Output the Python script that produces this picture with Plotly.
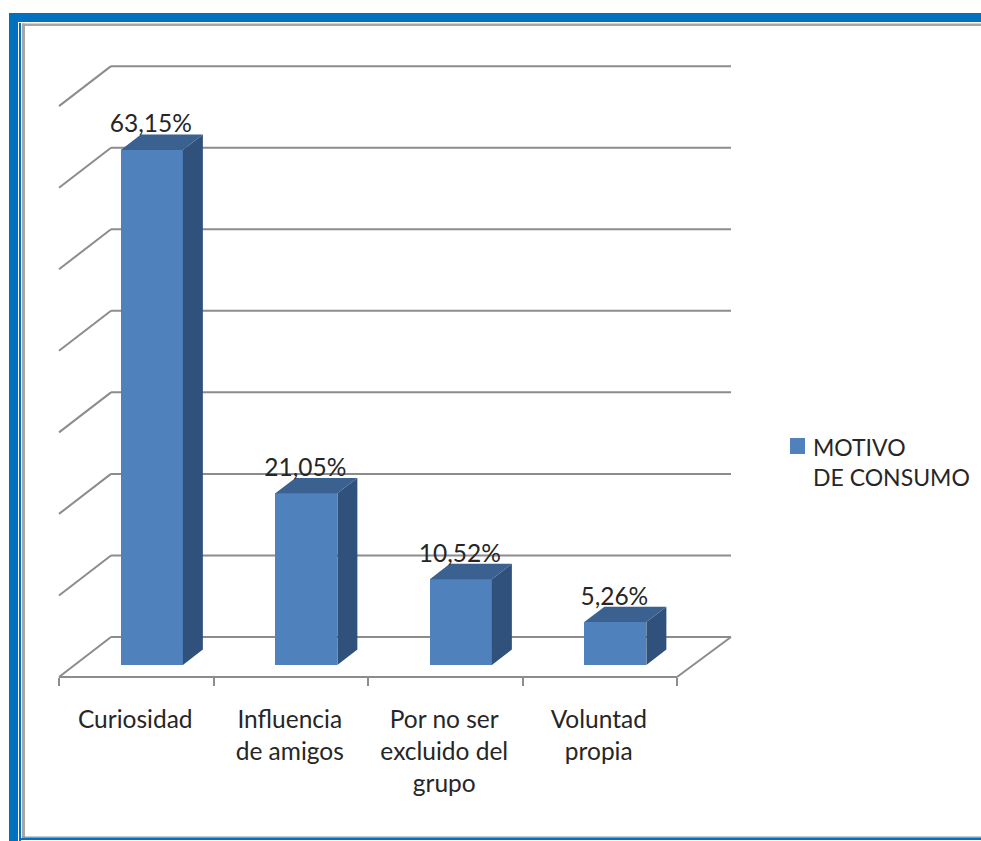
import plotly.graph_objects as go

categories = ["Curiosidad", "Influencia<br>de amigos", "Por no ser<br>excluido del<br>grupo", "Voluntad<br>propia"]
values = [63.15, 21.05, 10.52, 5.26]
labels = ["63,15%", "21,05%", "10,52%", "5,26%"]
grid_values = [0, 10, 20, 30, 40, 50, 60, 70]
series_name = "MOTIVO<br>DE CONSUMO"

W, H = 981, 841
PX_CAT = 154.5      # pixels per category
PX_VAL = 8.155      # pixels per percent
X0, Y0 = 59, 677    # pixel position of the front-left floor corner
L, R, T, B = 40, 981, 50, 690

DX = 52 / PX_CAT    # depth of the 3D box, in x units
DX_R = 54 / PX_CAT  # depth at the right-hand end of the floor and wall
DY = 40 / PX_VAL    # depth of the 3D box, in y units
GAP = 0.3           # depth before the bar starts
BAR = 0.385         # depth of the bar
BW = 62 / PX_CAT    # bar width
NUDGE = 1 / PX_CAT  # small leftward shift of the text labels

FONT = "Lato"
TXT = "#262626"
GRID = "#8c8c8c"
FRONT, SIDE, TOP = "#4f81bd", "#30517b", "#3b6190"

xr = [-0.5 - (X0 - L) / PX_CAT, -0.5 + (R - X0) / PX_CAT]
yr = [-(B - Y0) / PX_VAL, (Y0 - T) / PX_VAL]


def pxx(p):
    return (p - L) / (R - L)


def pxy(p):
    return (B - p) / (B - T)


fig = go.Figure()

# grid of the walls and floor, under the bars
shapes = []
n = len(categories)
left, right = -0.5, n - 0.5
for g in grid_values:
    if g > 0:
        shapes.append(dict(type="line", xref="x", yref="y", layer="below", x0=left, y0=g, x1=left + DX, y1=g + DY,
                           line=dict(color=GRID, width=2)))
    shapes.append(dict(type="line", xref="x", yref="y", layer="below", x0=left + DX, y0=g + DY, x1=right + DX_R, y1=g + DY,
                       line=dict(color=GRID, width=2)))
for seg in [(left, 0, right, 0), (left, 0, left + DX, DY), (right, 0, right + DX_R, DY)]:
    shapes.append(dict(type="line", xref="x", yref="y", layer="below", x0=seg[0], y0=seg[1], x1=seg[2], y1=seg[3],
                       line=dict(color=GRID, width=2)))

# page frame
BLUE = "#0070c0"
frames = [
    (9, 13, W + 2, 22, BLUE), (9, 13, 18, H + 2, BLUE),
    (19, 23, 21, H + 2, BLUE),
    (22, 23.5, W + 2, 26, "#a6a6a6"), (22, 23.5, 25, 838, "#a6a6a6"),
    (22, 836.6, W + 2, 838, "#8a9aa8"),
    (19, 838, W + 2, 840, BLUE),
]
for x0, y0, x1, y1, c in frames:
    shapes.append(dict(type="rect", xref="paper", yref="paper", layer="below", x0=pxx(x0), x1=pxx(x1), y0=pxy(y0), y1=pxy(y1),
                       fillcolor=c, line=dict(width=0)))
# legend swatch, level with the first line of the legend text
shapes.append(dict(type="rect", xref="paper", yref="paper", layer="below", x0=pxx(790), x1=pxx(805), y0=pxy(438), y1=pxy(454),
                   fillcolor=FRONT, line=dict(width=0)))

xs = [i + GAP * DX for i in range(n)]
fig.add_trace(go.Bar(x=xs, y=values, base=GAP * DY, width=BW, marker=dict(color=FRONT, line=dict(width=0)),
                     showlegend=False, hoverinfo="skip"))

# side and top faces
for x, v in zip(xs, values):
    xl, xr_ = x - BW / 2, x + BW / 2
    y0, y1 = GAP * DY, GAP * DY + v
    dx, dy = BAR * DX, BAR * DY
    fig.add_trace(go.Scatter(x=[xr_, xr_ + dx, xr_ + dx, xr_, xr_], y=[y0, y0 + dy, y1 + dy, y1, y0], mode="lines",
                             fill="toself", fillcolor=SIDE, line=dict(width=0), showlegend=False, hoverinfo="skip"))
    fig.add_trace(go.Scatter(x=[xl, xr_, xr_ + dx, xl + dx, xl], y=[y1, y1, y1 + dy, y1 + dy, y1], mode="lines",
                             fill="toself", fillcolor=TOP, line=dict(width=0), showlegend=False, hoverinfo="skip"))

# legend entry (its swatch is the rectangle above)
fig.add_trace(go.Scatter(x=[None], y=[None], mode="markers", name=series_name,
                         marker=dict(symbol="square", size=16, color="rgba(0,0,0,0)")))

# data labels, on the overlay axis that also carries the category labels
fig.add_trace(go.Scatter(x=[x - NUDGE for x in xs], y=[GAP * DY + v + BAR * DY - 4 / PX_VAL for v in values], xaxis="x2",
                         mode="text", text=labels,
                         textposition="top center", textfont=dict(family=FONT, size=24.5, color=TXT),
                         showlegend=False, hoverinfo="skip", cliponaxis=False))

fig.update_layout(
    width=W, height=H, autosize=False,
    margin=dict(l=L, r=W - R, t=T, b=H - B, pad=0, autoexpand=False),
    paper_bgcolor="white", plot_bgcolor="white",
    shapes=shapes, bargap=0, showlegend=True,
    font=dict(family=FONT, size=23, color=TXT),
    xaxis=dict(range=xr, anchor="free", position=pxy(Y0), showgrid=False, zeroline=False, showline=False,
               tickmode="array", tickvals=[i - 0.5 for i in range(n + 1)], ticktext=[""] * (n + 1),
               ticks="outside", ticklen=8, tickwidth=2, tickcolor=GRID),
    xaxis2=dict(range=xr, overlaying="x", anchor="free", position=pxy(Y0), side="bottom", showgrid=False, zeroline=False,
                showline=False, tickmode="array", tickvals=[i - NUDGE for i in range(n)], ticktext=categories,
                ticks="outside", ticklen=21, tickwidth=0, tickcolor="rgba(0,0,0,0)", tickangle=0,
                tickfont=dict(family=FONT, size=24.5, color=TXT)),
    yaxis=dict(range=yr, visible=False, showgrid=False, zeroline=False),
    legend=dict(x=pxx(773), y=pxy(425.5), xanchor="left", yanchor="top", bgcolor="rgba(0,0,0,0)",
                font=dict(family=FONT, size=23, color=TXT), itemclick=False, itemdoubleclick=False),
)

fig.write_html("out.html", config=dict(displayModeBar=False),
               post_script="document.body.style.margin='0';document.body.style.overflow='hidden';")
